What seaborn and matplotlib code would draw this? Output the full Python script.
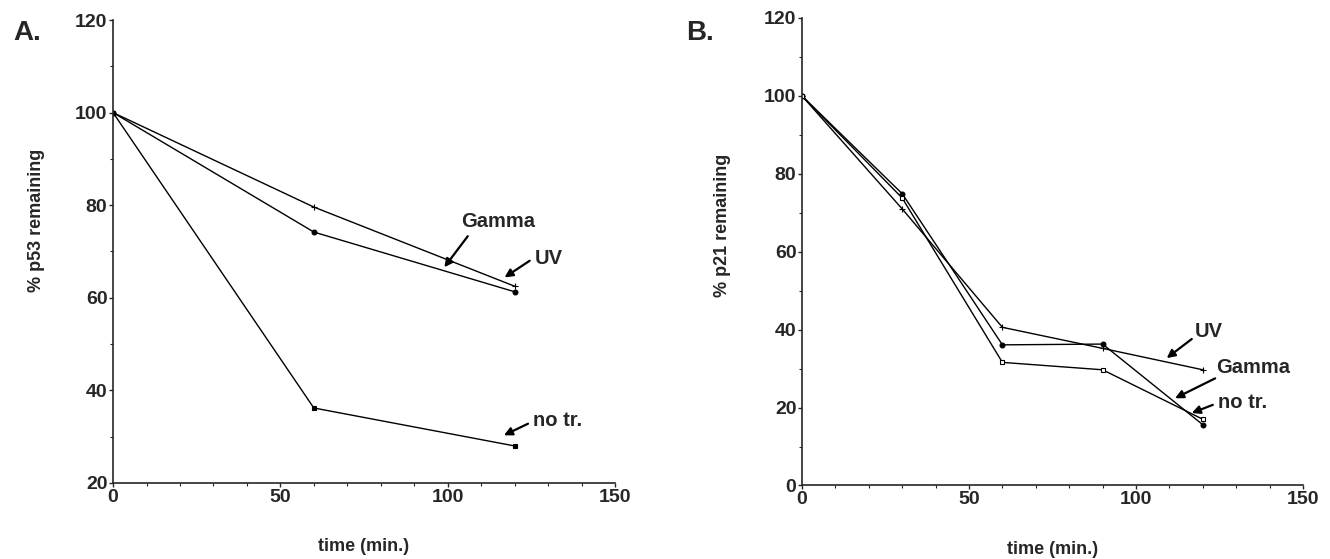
import seaborn as sns
import matplotlib.pyplot as plt
import pandas as pd
from matplotlib.ticker import MultipleLocator

# Panel A: p53 half-life
time_a = [0, 60, 120]
p53_uv = [100, 79.6, 62.5]
p53_gamma = [100, 74.2, 61.3]
p53_notr = [100, 36.2, 28.0]

# Panel B: p21 half-life
time_b = [0, 30, 60, 90, 120]
p21_uv = [100, 71.0, 40.6, 35.2, 29.7]
p21_gamma = [100, 74.9, 36.1, 36.3, 15.6]
p21_notr = [100, 73.8, 31.6, 29.7, 17.0]

sns.set_theme(style="ticks")
plt.rcParams["font.family"] = ["Liberation Sans", "DejaVu Sans"]
plt.rcParams["font.weight"] = "bold"

fig = plt.figure(figsize=(13.3, 5.59), dpi=100)
ax_a = fig.add_axes([0.085, 0.136, 0.3774, 0.8282])
ax_b = fig.add_axes([0.603, 0.1315, 0.3767, 0.8363])


def draw_series(ax, t, vals, marker, filled=True, ms=3.5):
    df = pd.DataFrame({"time": t, "pct": vals})
    sns.lineplot(data=df, x="time", y="pct", ax=ax, color="black", lw=1.0,
                 marker=marker, markersize=ms,
                 markerfacecolor="black" if filled else "white",
                 markeredgecolor="black", markeredgewidth=0.8)


def style_axes(ax, ylim, ylabel, label_pos):
    ax.set_xlim(0, 150)
    ax.set_ylim(*ylim)
    ax.xaxis.set_major_locator(MultipleLocator(50))
    ax.xaxis.set_minor_locator(MultipleLocator(10))
    ax.yaxis.set_major_locator(MultipleLocator(20))
    ax.yaxis.set_minor_locator(MultipleLocator(10))
    ax.tick_params(which="major", direction="out", length=3, width=1,
                   labelsize=14, pad=1)
    ax.tick_params(which="minor", direction="out", length=2, width=0.8)
    for lab in ax.get_xticklabels() + ax.get_yticklabels():
        lab.set_fontweight("bold")
    sns.despine(ax=ax)
    ax.spines["left"].set_linewidth(1.2)
    ax.spines["bottom"].set_linewidth(1.2)
    ax.set_xlabel("time (min.)", fontsize=13, fontweight="bold")
    ax.set_ylabel(ylabel, fontsize=13, fontweight="bold")
    ax.xaxis.set_label_coords(0.5, -0.118)
    ax.yaxis.set_label_coords(*label_pos)


def arrow_label(ax, text, text_xy, tail, head):
    ax.annotate("", xy=head, xytext=tail,
                arrowprops=dict(arrowstyle="-|>", color="black", lw=1.6,
                                mutation_scale=12, shrinkA=0, shrinkB=0))
    ax.text(*text_xy, text, fontsize=14.5, fontweight="bold",
            ha="left", va="center")


# Panel A
draw_series(ax_a, time_a, p53_uv, "+", ms=4)
draw_series(ax_a, time_a, p53_gamma, "o", ms=3.5)
draw_series(ax_a, time_a, p53_notr, "s", ms=3)
style_axes(ax_a, (20, 120), "% p53 remaining", (-0.135, 0.568))
arrow_label(ax_a, "Gamma", (104, 76.5), (106, 73.3), (99, 66.6))
arrow_label(ax_a, "UV", (126, 68.5), (124.5, 68), (117, 64.4))
arrow_label(ax_a, "no tr.", (125.5, 33.5), (124, 32.8), (116.8, 30.3))

# Panel B
draw_series(ax_b, time_b, p21_uv, "+", ms=4)
draw_series(ax_b, time_b, p21_gamma, "o", ms=3.5)
draw_series(ax_b, time_b, p21_notr, "s", filled=False, ms=3.5)
style_axes(ax_b, (0, 120), "% p21 remaining", (-0.142, 0.557))
arrow_label(ax_b, "UV", (117.7, 39.5), (116.7, 37.6), (109.2, 32.7))
arrow_label(ax_b, "Gamma", (124, 30.4), (123.7, 27.5), (111.7, 22.4))
arrow_label(ax_b, "no tr.", (124.6, 21.2), (123, 20.7), (116.7, 18.6))

fig.text(0.01, 0.941, "A.", fontsize=20, fontweight="bold", va="center")
fig.text(0.516, 0.941, "B.", fontsize=20, fontweight="bold", va="center")

fig.savefig("out.png", dpi=100)
